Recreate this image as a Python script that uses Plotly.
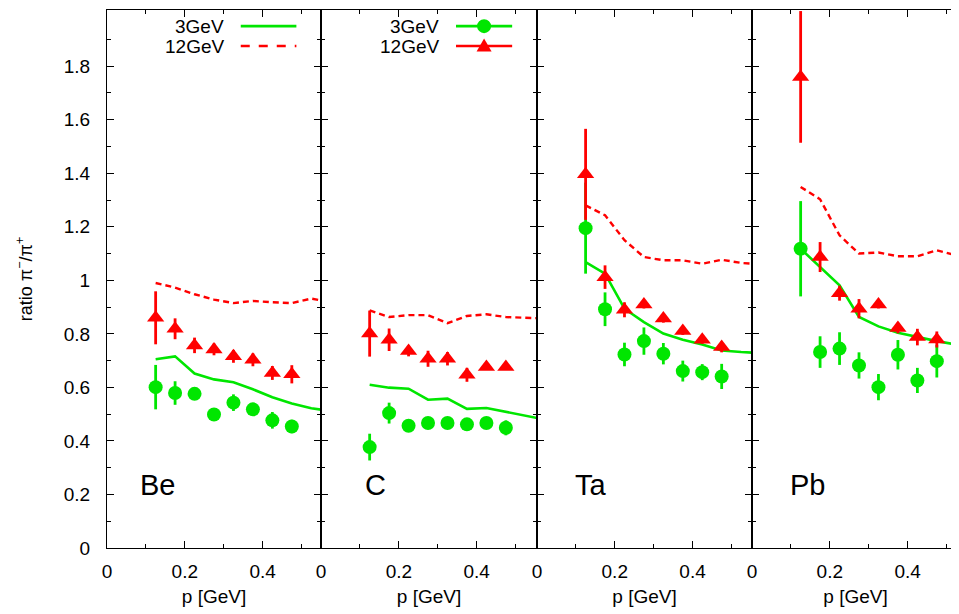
import plotly.graph_objects as go

# ---------------- data ----------------
p_data = [0.125, 0.175, 0.225, 0.275, 0.325, 0.375, 0.425, 0.475]
p_theory = [0.125, 0.175, 0.225, 0.275, 0.325, 0.375, 0.425, 0.475, 0.525, 0.575]

targets = ["Be", "C", "Ta", "Pb"]

be_3_val = [0.601, 0.579, 0.576, 0.499, 0.543, 0.518, 0.477, 0.454]
be_3_err = [0.083, 0.044, 0.020, 0.020, 0.031, 0.022, 0.031, 0.025]
be_12_val = [0.860, 0.819, 0.757, 0.742, 0.716, 0.703, 0.654, 0.649]
be_12_err = [0.099, 0.039, 0.029, 0.022, 0.024, 0.024, 0.026, 0.034]
be_3_th = [0.705, 0.716, 0.652, 0.630, 0.619, 0.593, 0.563, 0.540, 0.522, 0.512]
be_12_th = [0.990, 0.973, 0.948, 0.928, 0.915, 0.923, 0.918, 0.915, 0.932, 0.918]

c_3_val = [0.377, 0.504, 0.457, 0.467, 0.467, 0.462, 0.467, 0.449]
c_3_err = [0.050, 0.039, 0.020, 0.020, 0.020, 0.020, 0.020, 0.028]
c_12_val = [0.801, 0.778, 0.736, 0.707, 0.707, 0.647, 0.676, 0.676]
c_12_err = [0.086, 0.042, 0.020, 0.030, 0.025, 0.026, 0.010, 0.010]
c_3_th = [0.610, 0.599, 0.595, 0.554, 0.558, 0.520, 0.523, 0.508, 0.495, 0.480]
c_12_th = [0.888, 0.863, 0.870, 0.870, 0.840, 0.867, 0.873, 0.863, 0.860, 0.858]

ta_3_val = [1.195, 0.892, 0.723, 0.773, 0.726, 0.661, 0.657, 0.641]
ta_3_err = [0.170, 0.063, 0.044, 0.051, 0.040, 0.039, 0.030, 0.047]
ta_12_val = [1.396, 1.012, 0.890, 0.910, 0.857, 0.811, 0.778, 0.751]
ta_12_err = [0.170, 0.044, 0.028, 0.015, 0.015, 0.015, 0.015, 0.020]
ta_3_th = [1.068, 1.025, 0.894, 0.844, 0.801, 0.778, 0.760, 0.738, 0.732, 0.728]
ta_12_th = [1.280, 1.243, 1.150, 1.087, 1.075, 1.075, 1.062, 1.077, 1.065, 1.060]

pb_3_val = [1.118, 0.732, 0.745, 0.682, 0.601, 0.722, 0.626, 0.698]
pb_3_err = [0.178, 0.059, 0.061, 0.049, 0.049, 0.055, 0.047, 0.061]
pb_12_val = [1.760, 1.087, 0.952, 0.894, 0.910, 0.822, 0.788, 0.779]
pb_12_err = [0.246, 0.056, 0.028, 0.036, 0.015, 0.020, 0.031, 0.030]
pb_3_th = [1.118, 1.050, 0.981, 0.863, 0.828, 0.804, 0.788, 0.773, 0.760, 0.750]
pb_12_th = [1.349, 1.303, 1.168, 1.100, 1.104, 1.090, 1.090, 1.112, 1.093, 1.090]

x_major = [0, 0.2, 0.4]
x_major_text = ["0", "0.2", "0.4"]
x_minor = [0.1, 0.3, 0.5]
y_major = [0, 0.2, 0.4, 0.6, 0.8, 1.0, 1.2, 1.4, 1.6, 1.8]
y_major_text = ["0", "0.2", "0.4", "0.6", "0.8", "1", "1.2", "1.4", "1.6", "1.8"]
y_minor = [0.1, 0.3, 0.5, 0.7, 0.9, 1.1, 1.3, 1.5, 1.7, 1.9]
legend_labels = ["3GeV", "12GeV"]

# ---------------- styling ----------------
GREEN = "#00e600"
RED = "#ff0000"
FONT = "Liberation Sans"
# the page body has an 8px margin, so the figure is sized to the visible area
W, H = 951, 606
ML, MR, MT, MB = 99, 0, 2, 66
PW = W - ML - MR
edges_px = [0, 214, 430, 645, PW]
domains = [[edges_px[i] / PW, edges_px[i + 1] / PW] for i in range(4)]
x_ranges = [[0, 0.55], [0, 0.555], [0, 0.553], [0, 0.532]]
y_range = [0, 2.01]

sets = [
    (be_3_val, be_3_err, be_12_val, be_12_err, be_3_th, be_12_th),
    (c_3_val, c_3_err, c_12_val, c_12_err, c_3_th, c_12_th),
    (ta_3_val, ta_3_err, ta_12_val, ta_12_err, ta_3_th, ta_12_th),
    (pb_3_val, pb_3_err, pb_12_val, pb_12_err, pb_3_th, pb_12_th),
]
label_x = [0.08, 0.108, 0.093, 0.093]

fig = go.Figure()

for i, (g_v, g_e, r_v, r_e, g_th, r_th) in enumerate(sets):
    xa = "x" if i == 0 else f"x{i+1}"
    ya = "y" if i == 0 else f"y{i+1}"
    fig.add_trace(go.Scatter(x=p_theory, y=g_th, mode="lines", xaxis=xa, yaxis=ya,
                             line=dict(color=GREEN, width=2.6), showlegend=False,
                             name="3GeV theory"))
    fig.add_trace(go.Scatter(x=p_theory, y=r_th, mode="lines", xaxis=xa, yaxis=ya,
                             line=dict(color=RED, width=2.4, dash="6px,4px"),
                             showlegend=False, name="12GeV theory"))
    fig.add_trace(go.Scatter(x=p_data, y=g_v, mode="markers", xaxis=xa, yaxis=ya,
                             marker=dict(symbol="circle", size=14, color=GREEN),
                             error_y=dict(type="data", array=g_e, visible=True,
                                          color=GREEN, thickness=2.8, width=0),
                             showlegend=False, name="3GeV data"))
    fig.add_trace(go.Scatter(x=p_data, y=r_v, mode="markers", xaxis=xa, yaxis=ya,
                             marker=dict(symbol="triangle-up", size=15, color=RED),
                             error_y=dict(type="data", array=r_e, visible=True,
                                          color=RED, thickness=2.8, width=0),
                             showlegend=False, name="12GeV data"))
    fig.add_annotation(x=label_x[i], y=0.235, xref=xa, yref=ya, text=targets[i],
                       showarrow=False, xanchor="left", yanchor="middle",
                       font=dict(family=FONT, size=29, color="black"))

axis_common = dict(showgrid=False, zeroline=False, showline=True, linecolor="black",
                   linewidth=1.3, ticks="inside", tickcolor="black", tickwidth=1,
                   automargin=False,
                   tickfont=dict(family=FONT, size=19, color="black"))

layout = dict(width=W, height=H, margin=dict(l=ML, r=MR, t=MT, b=MB, autoexpand=False),
              paper_bgcolor="white", plot_bgcolor="white", showlegend=False,
              font=dict(family=FONT, color="black"))
for i in range(4):
    xk = "xaxis" if i == 0 else f"xaxis{i+1}"
    yk = "yaxis" if i == 0 else f"yaxis{i+1}"
    layout[xk] = dict(axis_common, domain=domains[i], range=x_ranges[i],
                      anchor="y" if i == 0 else f"y{i+1}",
                      tickmode="array", tickvals=x_major, ticktext=x_major_text,
                      ticklen=7, mirror="allticks", ticklabelstandoff=6,
                      minor=dict(tickmode="array", tickvals=x_minor, ticks="inside",
                                 ticklen=4, tickcolor="black"),
                      title=dict(text="p [GeV]", font=dict(family=FONT, size=19),
                                 standoff=8))
    layout[yk] = dict(axis_common, domain=[0, 1], range=y_range,
                      anchor="x" if i == 0 else f"x{i+1}",
                      tickmode="array", tickvals=y_major, ticktext=y_major_text,
                      ticklen=7, mirror="allticks" if i < 3 else False,
                      showticklabels=(i == 0), ticklabelstandoff=12,
                      minor=dict(tickmode="array", tickvals=y_minor, ticks="inside",
                                 ticklen=4, tickcolor="black"))
layout["yaxis"]["title"] = dict(text="ratio π<sup>−</sup>/π<sup>+</sup>",
                                font=dict(family=FONT, size=18), standoff=26)
fig.update_layout(**layout)

# ---------------- legend keys (gnuplot style: text then sample) ----------------
leg_y = [0.970, 0.933]
for j, (col, dash) in enumerate([(GREEN, "solid"), (RED, "dash")]):
    for panel in (0, 1):
        xd = "x domain" if panel == 0 else "x2 domain"
        yd = "y domain" if panel == 0 else "y2 domain"
        fig.add_annotation(x=0.556, y=leg_y[j], xref=xd, yref=yd, text=legend_labels[j],
                           showarrow=False, xanchor="right", yanchor="middle",
                           font=dict(family=FONT, size=19, color="black"))
        fig.add_shape(type="line", xref=xd, yref=yd, x0=0.625, x1=0.885,
                      y0=leg_y[j], y1=leg_y[j],
                      line=dict(color=col, width=2.6,
                                dash=(dash if panel == 0 else "solid")))
# markers on panel-2 legend keys
fig.add_shape(type="circle", xref="x2 domain", yref="y2 domain",
              xsizemode="pixel", ysizemode="pixel", xanchor=0.755, yanchor=leg_y[0],
              x0=-7, x1=7, y0=-7, y1=7, fillcolor=GREEN, line=dict(width=0))
fig.add_shape(type="path", xref="x2 domain", yref="y2 domain",
              xsizemode="pixel", ysizemode="pixel", xanchor=0.755, yanchor=leg_y[1],
              path="M -7.5,-5.5 L 7.5,-5.5 L 0,7.5 Z", fillcolor=RED, line=dict(width=0))

fig.write_html("out.html")
